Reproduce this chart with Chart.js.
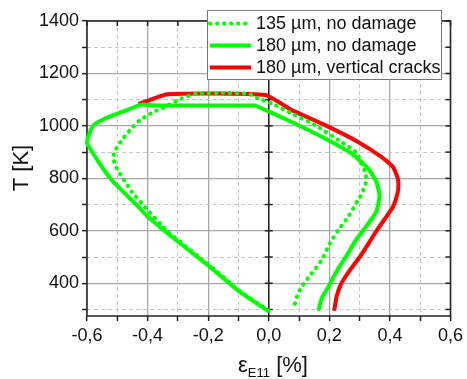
<!DOCTYPE html>
<html><head><meta charset="utf-8">
<script src="https://cdn.jsdelivr.net/npm/chart.js@4/dist/chart.umd.min.js"></script>
<style>html,body{margin:0;padding:0;background:#fff;}#c{display:block}</style>
</head><body>
<canvas id="c" width="467" height="379"></canvas>
<script>
const seriesNames = ['135 µm, no damage', '180 µm, no damage', '180 µm, vertical cracks'];

const strain135 = [0.000, -0.100, -0.157, -0.245, -0.332, -0.409, -0.452, -0.485, -0.507, -0.513, -0.507, -0.485, -0.458, -0.425, -0.381, -0.343, -0.289, -0.239, -0.150, -0.065, -0.035, 0.011, 0.076, 0.153, 0.230, 0.290, 0.306, 0.320, 0.322, 0.315, 0.308, 0.295, 0.262, 0.230, 0.202, 0.175, 0.142, 0.109, 0.093, 0.082];
const temp135   = [295, 374, 431, 514, 596, 691, 749, 806, 850, 882, 907, 945, 984, 1022, 1053, 1072, 1104, 1123, 1126, 1122, 1104, 1085, 1047, 1003, 946, 898, 857, 820, 790, 765, 742, 717, 653, 603, 552, 488, 438, 387, 349, 302];

const strain180 = [0.000, -0.103, -0.201, -0.299, -0.398, -0.430, -0.474, -0.518, -0.562, -0.600, -0.594, -0.578, -0.540, -0.485, -0.420, -0.381, -0.045, -0.033, 0.076, 0.186, 0.273, 0.328, 0.355, 0.366, 0.355, 0.317, 0.284, 0.262, 0.230, 0.197, 0.175, 0.164];
const temp180   = [292, 374, 469, 558, 653, 691, 742, 793, 863, 935, 965, 1003, 1028, 1053, 1081, 1078, 1078, 1072, 1015, 952, 895, 838, 787, 735, 672, 609, 558, 514, 457, 387, 342, 295];

const strainCrack = [-0.430, -0.334, -0.011, 0.076, 0.186, 0.295, 0.372, 0.410, 0.426, 0.428, 0.425, 0.410, 0.388, 0.361, 0.333, 0.301, 0.268, 0.240, 0.224, 0.216];
const tempCrack   = [1083, 1121, 1118, 1060, 1003, 939, 882, 844, 800, 770, 742, 691, 653, 609, 558, 501, 450, 400, 349, 295];

const xMajorValues = [-0.6, -0.4, -0.2, 0.0, 0.2, 0.4, 0.6];
const xMajorLabels = ['-0,6', '-0,4', '-0,2', '0,0', '0,2', '0,4', '0,6'];
const xMinorValues = [-0.5, -0.3, -0.1, 0.1, 0.3, 0.5];
const yMajorValues = [400, 600, 800, 1000, 1200, 1400];
const yMajorLabels = ['400', '600', '800', '1000', '1200', '1400'];
const yMinorValues = [300, 500, 700, 900, 1100, 1300];

const FONT = "'Liberation Sans', Arial, sans-serif";
const GREEN = '#00ff00', RED = '#ff0000';

function pts(xs, ys) { return xs.map((v, i) => ({ x: v, y: ys[i] })); }
function findIdx(arr, v) { return arr.findIndex(m => Math.abs(m - v) < 1e-9); }
const allX = xMajorValues.concat(xMinorValues).sort((a, b) => a - b);
const allY = yMajorValues.concat(yMinorValues).sort((a, b) => a - b);

function gridOpts(majors) {
  return {
    color: c => (c.tick && findIdx(majors, c.tick.value) >= 0) ? '#a8a8a8' : '#c8c8c8',
    lineWidth: c => (c.tick && findIdx(majors, c.tick.value) >= 0) ? 1.3 : 1,
    tickColor: '#222', tickWidth: 1.5, tickLength: 5, tickBorderDash: [], drawTicks: true
  };
}
function borderOpts(majors) {
  return { display: false, dash: c => (c.tick && findIdx(majors, c.tick.value) < 0) ? [4, 3] : [] };
}

const decor = {
  id: 'decor',
  beforeDatasetsDraw(chart) {
    const { ctx, chartArea: a, scales: { x, y } } = chart;
    const line = (x1, y1, x2, y2) => { ctx.beginPath(); ctx.moveTo(x1, y1); ctx.lineTo(x2, y2); ctx.stroke(); };
    ctx.save();
    ctx.strokeStyle = '#222'; ctx.lineWidth = 1.5; ctx.setLineDash([]);
    const x0 = x.getPixelForValue(0);
    line(x0, a.top, x0, a.bottom);
    ctx.strokeRect(a.left, a.top, a.right - a.left, a.bottom - a.top);
    allY.forEach(v => { const py = y.getPixelForValue(v); line(a.right - 5, py, a.right, py); line(x0 - 4, py, x0 + 4, py); });
    allX.forEach(v => { const px = x.getPixelForValue(v); line(px, a.top, px, a.top + 5); });
    ctx.restore();
  },
  afterDraw(chart) {
    const { ctx } = chart;
    ctx.save();
    // legend
    ctx.fillStyle = '#fff'; ctx.strokeStyle = '#777'; ctx.lineWidth = 1; ctx.setLineDash([]);
    ctx.fillRect(207.5, 10.5, 234, 69); ctx.strokeRect(207.5, 10.5, 234, 69);
    const rows = [23.5, 45.5, 67.5];
    chart.data.datasets.forEach((ds, i) => {
      ctx.strokeStyle = ds.borderColor; ctx.lineWidth = ds.borderWidth; ctx.lineCap = ds.borderCapStyle || 'butt';
      ctx.setLineDash(ds.borderDash || []);
      ctx.beginPath(); ctx.moveTo(210, rows[i]); ctx.lineTo(251, rows[i]); ctx.stroke();
      ctx.setLineDash([]);
      ctx.fillStyle = '#111'; ctx.font = '18px ' + FONT; ctx.textBaseline = 'middle'; ctx.textAlign = 'left';
      ctx.fillText(ds.label, 256, rows[i] + 1);
    });
    // y title
    ctx.fillStyle = '#111';
    ctx.save(); ctx.translate(22, 168); ctx.rotate(-Math.PI / 2);
    ctx.font = '22px ' + FONT; ctx.textAlign = 'center'; ctx.textBaseline = 'middle';
    ctx.fillText('T [K]', 0, 0); ctx.restore();
    // x title with subscript
    ctx.textAlign = 'left'; ctx.textBaseline = 'alphabetic';
    const p1 = 'ε', p2 = 'E11', p3 = ' [%]';
    ctx.font = '22px ' + FONT; const w1 = ctx.measureText(p1).width, w3 = ctx.measureText(p3).width;
    ctx.font = '13px ' + FONT; const w2 = ctx.measureText(p2).width;
    let sx = 273 - (w1 + w2 + w3) / 2; const by = 372;
    ctx.font = '22px ' + FONT; ctx.fillText(p1, sx, by); sx += w1;
    ctx.font = '13px ' + FONT; ctx.fillText(p2, sx, by + 5); sx += w2;
    ctx.font = '22px ' + FONT; ctx.fillText(p3, sx, by);
    ctx.restore();
  }
};

new Chart(document.getElementById('c'), {
  type: 'scatter',
  data: {
    datasets: [
      { label: seriesNames[0], data: pts(strain135, temp135), showLine: true, borderColor: GREEN, borderWidth: 4,
        borderDash: [0.5, 6.5], borderCapStyle: 'round', pointRadius: 0, tension: 0.15, clip: false },
      { label: seriesNames[1], data: pts(strain180, temp180), showLine: true, borderColor: GREEN, borderWidth: 4,
        borderJoinStyle: 'round', pointRadius: 0, tension: 0.15, clip: false },
      { label: seriesNames[2], data: pts(strainCrack, tempCrack), showLine: true, borderColor: RED, borderWidth: 4,
        borderJoinStyle: 'round', pointRadius: 0, tension: 0.15, clip: false }
    ]
  },
  options: {
    responsive: false, animation: false, devicePixelRatio: 1,
    layout: { padding: { left: 0, right: 14, top: 21, bottom: 0 } },
    plugins: { legend: { display: false }, tooltip: { enabled: false } },
    scales: {
      x: {
        type: 'linear', min: -0.6, max: 0.6,
        afterBuildTicks: s => { s.ticks = allX.map(v => ({ value: v })); },
        afterFit: s => { s.height = 63; },
        ticks: { autoSkip: false, maxRotation: 0, padding: 4, color: '#111', font: { family: FONT, size: 18 },
          callback: v => { const i = findIdx(xMajorValues, v); return i >= 0 ? xMajorLabels[i] : ''; } },
        grid: gridOpts(xMajorValues), border: borderOpts(xMajorValues)
      },
      y: {
        type: 'linear', min: 275, max: 1400,
        afterBuildTicks: s => { s.ticks = allY.map(v => ({ value: v })); },
        afterFit: s => { s.width = 87; },
        ticks: { autoSkip: false, padding: 3, color: '#111', font: { family: FONT, size: 18 },
          callback: v => { const i = findIdx(yMajorValues, v); return i >= 0 ? yMajorLabels[i] : ''; } },
        grid: gridOpts(yMajorValues), border: borderOpts(yMajorValues)
      }
    }
  },
  plugins: [decor]
});
</script>
</body></html>
